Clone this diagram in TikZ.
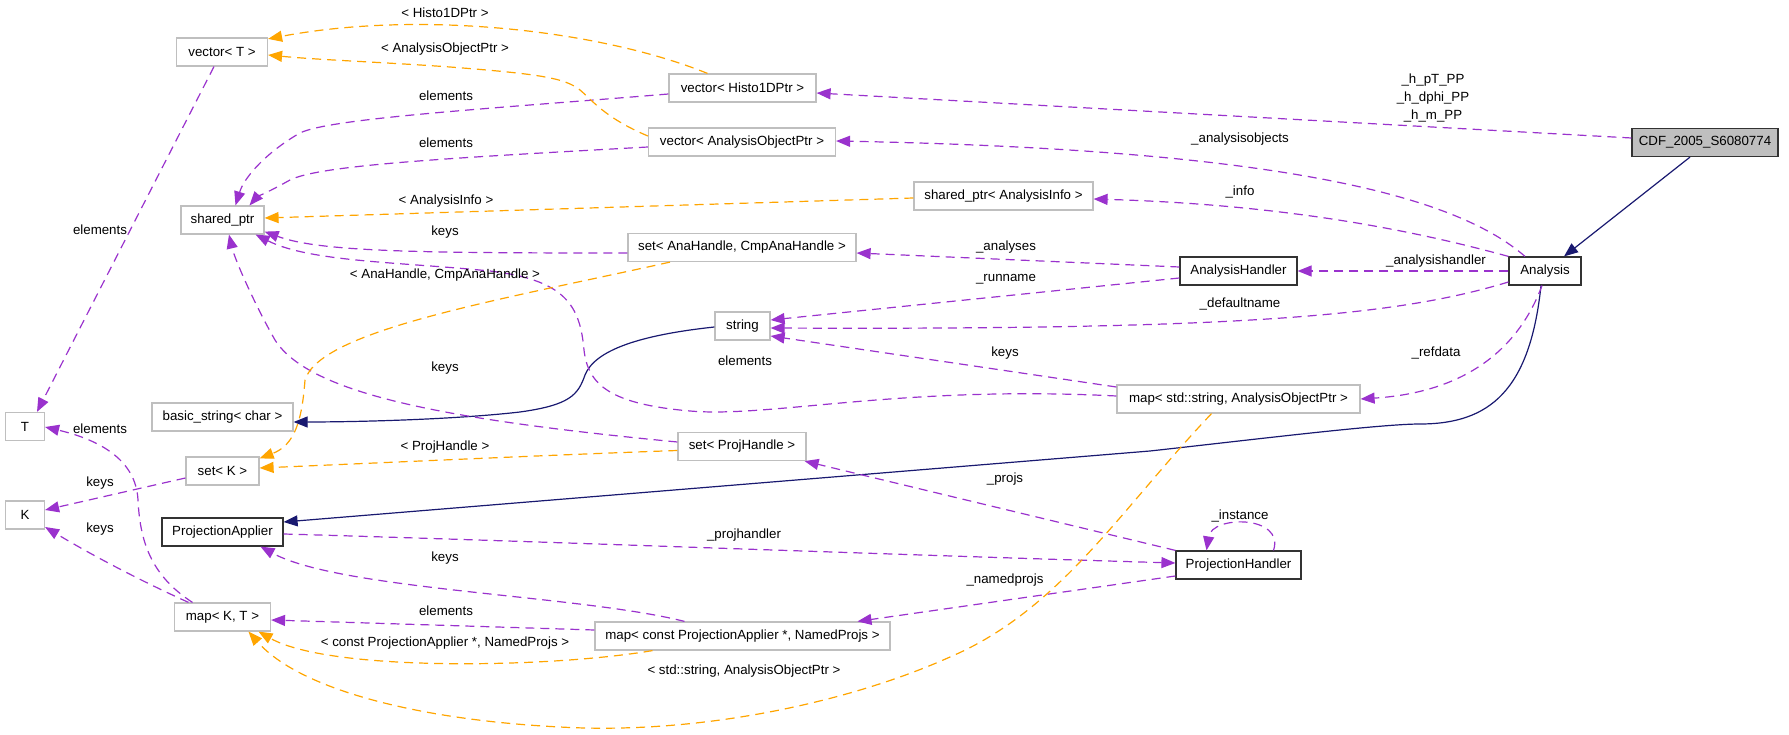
\documentclass[tikz,border=0pt]{standalone}
\usepackage{fontspec}
\setmainfont{Liberation Sans}
\usetikzlibrary{arrows.meta}
\definecolor{boxgray}{HTML}{BFBFBF}
\definecolor{usecol}{HTML}{9A32CD}
\definecolor{tplcol}{HTML}{FFA500}
\definecolor{inhcol}{HTML}{191970}
\begin{document}
\begin{tikzpicture}[x=1pt,y=-1pt,
	font=\fontsize{13.3}{16}\selectfont,
	box/.style={draw=boxgray,line width=1.2pt,minimum height=28pt,inner sep=0pt},
	mainbox/.style={box,draw=black!80},
	lbl/.style={inner sep=1pt},
	usage/.style={draw=usecol,line width=1.2pt,dash pattern=on 9pt off 6pt,-{Triangle[length=14pt,width=11pt]},usecol},
	tmpl/.style={usage,draw=tplcol,tplcol},
	inherit/.style={draw=inhcol,line width=1.2pt,-{Triangle[length=14pt,width=11pt]},inhcol}]
	\useasboundingbox (0,0) rectangle (1789,735);

	\node[mainbox,fill=boxgray,minimum width=146pt] (cdf) at (1705,142.5) {CDF\_2005\_S6080774};
	\node[mainbox,minimum width=72pt] (ana) at (1545,271) {Analysis};
	\node[mainbox,minimum width=117pt] (ah) at (1238.5,271) {AnalysisHandler};
	\node[mainbox,minimum width=125pt] (ph) at (1238.5,565) {ProjectionHandler};
	\node[mainbox,minimum width=121pt] (pa) at (222.5,532) {ProjectionApplier};

	\node[box,minimum width=91pt] (vt) at (222,52) {vector< T >};
	\node[box,minimum width=83pt] (sp) at (222.5,220) {shared\_ptr};
	\node[box,minimum width=141pt] (bs) at (222.5,417) {basic\_string< char >};
	\node[box,minimum width=39pt] (T) at (25,426.5) {T};
	\node[box,minimum width=73pt] (sk) at (222.5,471) {set< K >};
	\node[box,minimum width=39pt] (K) at (25,515) {K};
	\node[box,minimum width=96pt] (mkt) at (222.5,617) {map< K, T >};
	\node[box,minimum width=147pt] (vh) at (742.5,88) {vector< Histo1DPtr >};
	\node[box,minimum width=187pt] (vaop) at (742,142) {vector< AnalysisObjectPtr >};
	\node[box,minimum width=179pt] (spai) at (1003.5,196) {shared\_ptr< AnalysisInfo >};
	\node[box,minimum width=228pt] (sah) at (742,247.5) {set< AnaHandle, CmpAnaHandle >};
	\node[box,minimum width=55pt] (str) at (742.5,326) {string};
	\node[box,minimum width=243pt] (msa) at (1238.5,399) {map< std::string, AnalysisObjectPtr >};
	\node[box,minimum width=128pt] (sph) at (742,446.5) {set< ProjHandle >};
	\node[box,minimum width=295pt] (mpa) at (742.5,636) {map< const ProjectionApplier *, NamedProjs >};

	\draw[inherit] ([xshift=-15pt]cdf.south) -- ([xshift=19pt]ana.north);
	\draw[inherit] ([xshift=-4pt]ana.south) .. controls (1530,390) and (1490,424) .. (1420,424) .. controls (1380,424) and (1250,440) .. (1150,451) -- ([yshift=10pt]pa.east);
	\draw[inherit] ([yshift=-1pt]str.west) .. controls (640,335) and (595,350) .. (585,375) .. controls (578,395) and (570,405) .. (520,412) .. controls (450,420) and (350,422) .. ([yshift=-5pt]bs.east);

	\draw[usage] ([yshift=4.5pt]cdf.west) -- ([yshift=-5pt]vh.east);
	\draw[usage] ([xshift=-20pt]ana.north) .. controls (1460,200) and (1300,150) .. ([yshift=1pt]vaop.east);
	\draw[usage] (ana.north west) .. controls (1430,235) and (1300,205) .. ([yshift=-3pt]spai.east);
	\draw[usage] (ana.west) -- (ah.east);
	\draw[usage] ([yshift=-11pt]ana.west) .. controls (1400,315) and (1250,330) .. ([yshift=-2pt]str.east);
	\draw[usage] ([xshift=-3pt]ana.south) .. controls (1520,345) and (1470,392) .. (msa.east);
	\draw[usage] ([yshift=4pt]ah.west) -- ([yshift=-5.5pt]sah.east);
	\draw[usage] ([yshift=-7pt]ah.west) -- ([yshift=6pt]str.east);
	\draw[usage] ([yshift=12pt]msa.west) -- ([yshift=-10pt]str.east);
	\draw[usage] ([yshift=3pt]msa.west) .. controls (900,385) and (770,418) .. (690,411) .. controls (610,404) and (588,385) .. (584,350) .. controls (580,305) and (565,280) .. (490,271) .. controls (400,262) and (310,262) .. ([xshift=-9pt]sp.south east);
	\draw[usage] ([yshift=-5.5pt]sah.west) .. controls (420,253) and (320,252) .. ([yshift=3pt]sp.south east);
	\draw[usage] ([yshift=4.5pt]sph.west) .. controls (450,420) and (310,395) .. (275,340) .. controls (255,305) and (235,260) .. ([xshift=6.5pt]sp.south);
	\draw[usage] ([yshift=-6pt]vh.west) .. controls (500,108) and (330,118) .. (300,133) .. controls (270,150) and (245,175) .. ([xshift=13pt]sp.north);
	\draw[usage] ([yshift=-5pt]vaop.west) .. controls (450,158) and (320,165) .. (290,180) .. controls (272,190) and (256,198) .. ([xshift=27pt]sp.north);
	\draw[usage] ([xshift=-8pt]vt.south) -- ([xshift=12pt]T.north);
	\draw[usage] ([xshift=-30pt]mkt.north) .. controls (150,575) and (140,540) .. (138,500) .. controls (136,460) and (100,440) .. ([yshift=-0.5pt]T.east);
	\draw[usage] ([yshift=-7pt]sk.west) -- ([yshift=5pt]K.east);
	\draw[usage] ([xshift=-34pt]mkt.north) .. controls (150,585) and (100,560) .. ([yshift=-12pt]K.east);
	\draw[usage] ([yshift=-2pt]pa.east) .. controls (500,540) and (900,555) .. ([yshift=2pt]ph.west);
	\draw[usage] ([xshift=-58pt]mpa.north) .. controls (580,595) and (340,590) .. ([xshift=38pt]pa.south);
	\draw[usage] ([yshift=6pt]mpa.west) -- ([yshift=-3pt]mkt.east);
	\draw[usage] (ph.north west) -- ([xshift=-2pt]sph.south east);
	\draw[usage] ([yshift=-11pt]ph.west) -- ([xshift=115pt]mpa.north);
	\draw[usage] ([xshift=35pt]ph.north) .. controls (1285,515) and (1212,515) .. ([xshift=-32pt]ph.north);

	\draw[tmpl] ([xshift=-35pt]vh.north) .. controls (600,30) and (420,10) .. ([yshift=-1.5pt]vt.north east);
	\draw[tmpl] ([yshift=6pt]vaop.west) .. controls (605,118) and (592,100) .. (580,90) .. controls (565,78) and (540,74) .. (450,67) .. controls (380,62) and (320,60) .. ([yshift=-3pt]vt.east);
	\draw[tmpl] ([yshift=-2pt]spai.west) -- ([yshift=2pt]sp.east);
	\draw[tmpl] ([xshift=-72pt]sah.south) .. controls (500,300) and (320,330) .. (305,380) .. controls (302,420) and (295,445) .. ([yshift=-2pt]sk.north east);
	\draw[tmpl] ([yshift=-4pt]sph.west) .. controls (550,455) and (400,462) .. ([yshift=3pt]sk.east);
	\draw[tmpl] ([xshift=-90pt]mpa.south) .. controls (550,668) and (330,672) .. ([xshift=36pt]mkt.south);
	\draw[tmpl] ([xshift=-27pt]msa.south) .. controls (1120,510) and (1060,610) .. (950,657) .. controls (850,702) and (700,735) .. (560,727) .. controls (420,720) and (300,690) .. ([xshift=26pt]mkt.south);

	\node[lbl,align=center,font=\fontsize{13.3}{18}\selectfont] (lh) at (1433,98) {\_h\_pT\_PP\\\_h\_dphi\_PP\\\_h\_m\_PP};
	\node[lbl] (lao) at (1240,139) {\_analysisobjects};
	\node[lbl] (linfo) at (1240,192) {\_info};
	\node[lbl] (lahd) at (1436,261) {\_analysishandler};
	\node[lbl] (ldef) at (1240,304) {\_defaultname};
	\node[lbl] (lref) at (1436,353) {\_refdata};
	\node[lbl] (lana) at (1006,247) {\_analyses};
	\node[lbl] (lrun) at (1006,279) {\_runname};
	\node[lbl] (lmsk) at (1005,353) {keys};
	\node[lbl] (lmse) at (745,361) {elements};
	\node[lbl] (lprj) at (1005,479) {\_projs};
	\node[lbl] (lphd) at (744,535) {\_projhandler};
	\node[lbl] (lnam) at (1005,580) {\_namedprojs};
	\node[lbl] (lsao) at (744,671) {< std::string, AnalysisObjectPtr >};
	\node[lbl] (linst) at (1240,516) {\_instance};
	\node[lbl] (lvh) at (445,13) {< Histo1DPtr >};
	\node[lbl] (lvao) at (445,49) {< AnalysisObjectPtr >};
	\node[lbl] (lvhe) at (446,96) {elements};
	\node[lbl] (lvae) at (446,143) {elements};
	\node[lbl] (lai) at (446,201) {< AnalysisInfo >};
	\node[lbl] (lsak) at (445,232) {keys};
	\node[lbl] (lvte) at (100,230) {elements};
	\node[lbl] (lach) at (445,275) {< AnaHandle, CmpAnaHandle >};
	\node[lbl] (lspk) at (445,368) {keys};
	\node[lbl] (lph) at (445,447) {< ProjHandle >};
	\node[lbl] (lmte) at (100,429) {elements};
	\node[lbl] (lskk) at (100,483) {keys};
	\node[lbl] (lmtk) at (100,529) {keys};
	\node[lbl] (lmpk) at (445,558) {keys};
	\node[lbl] (lmpe) at (446,611) {elements};
	\node[lbl] (lcpa) at (445,643) {< const ProjectionApplier *, NamedProjs >};
\end{tikzpicture}
\end{document}
